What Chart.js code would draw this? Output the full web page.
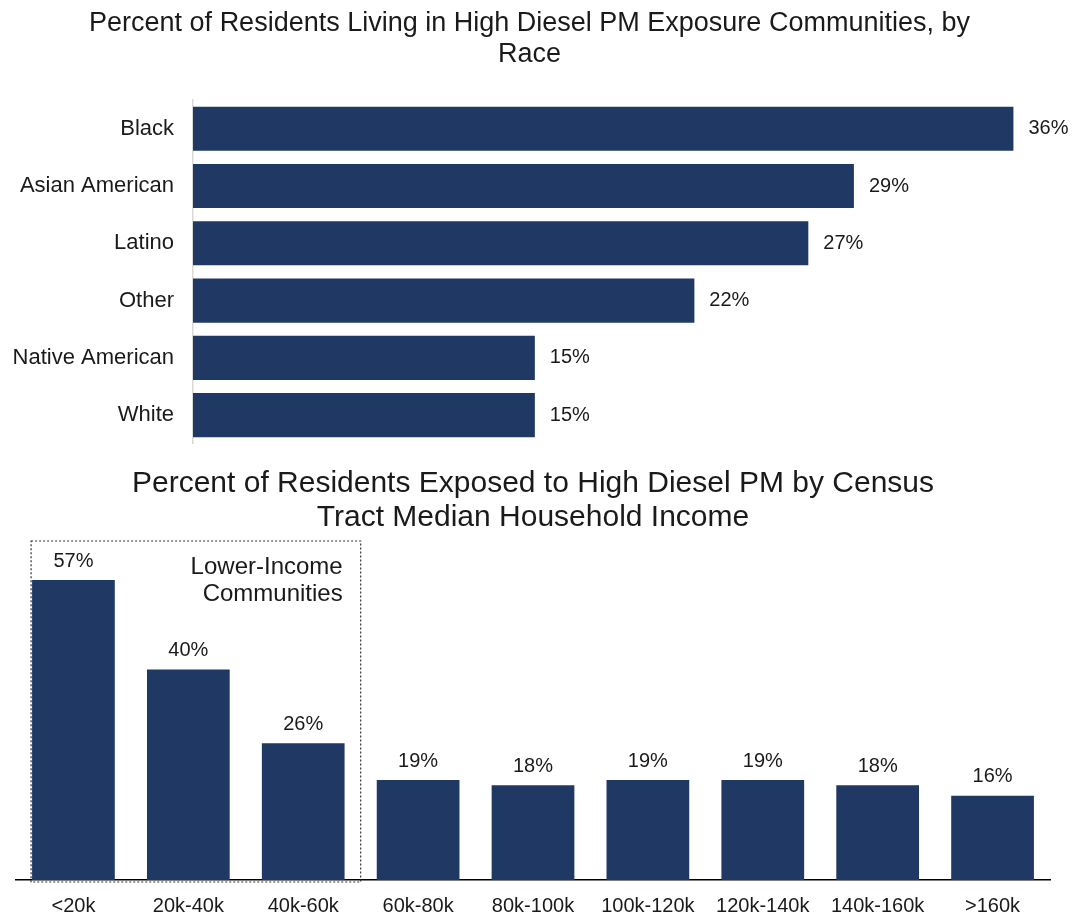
<!DOCTYPE html>
<html>
<head>
<meta charset="utf-8">
<script src="https://cdn.jsdelivr.net/npm/chart.js@4"></script>
<style>
  body { margin: 0; background: #fff; }
  canvas { position: absolute; left: 0; }
</style>
</head>
<body>
<canvas id="raceChart" width="1077" height="476" style="top:0"></canvas>
<canvas id="incomeChart" width="1077" height="464" style="top:455px"></canvas>
<script>
const raceLabels = ["Black", "Asian American", "Latino", "Other", "Native American", "White"];
const raceValues = [36, 29, 27, 22, 15, 15];

const incomeLabels = ["<20k", "20k-40k", "40k-60k", "60k-80k", "80k-100k", "100k-120k", "120k-140k", "140k-160k", ">160k"];
const incomeValues = [57, 40, 26, 19, 18, 19, 19, 18, 16];

const navy = "#1F3864";
const ink = "#1a1a1a";
const fontFamily = "'Liberation Sans', Arial, sans-serif";

Chart.defaults.font.family = fontFamily;
Chart.defaults.color = ink;
Chart.defaults.animation = false;

// writes "NN%" next to / above each bar
const valueLabels = {
  id: "valueLabels",
  afterDatasetsDraw(chart, args, opts) {
    const ctx = chart.ctx;
    const meta = chart.getDatasetMeta(0);
    ctx.save();
    ctx.fillStyle = ink;
    ctx.font = opts.size + "px " + fontFamily;
    meta.data.forEach((bar, i) => {
      const txt = chart.data.datasets[0].data[i] + "%";
      if (opts.horizontal) {
        ctx.textAlign = "left";
        ctx.textBaseline = "middle";
        ctx.fillText(txt, bar.x + 15, bar.y);
      } else {
        ctx.textAlign = "center";
        ctx.textBaseline = "bottom";
        ctx.fillText(txt, bar.x, bar.y - 9);
      }
    });
    ctx.restore();
  }
};

// dotted box round the lower-income bars
const lowIncomeBox = {
  id: "lowIncomeBox",
  afterDatasetsDraw(chart) {
    const ctx = chart.ctx;
    const x = chart.scales.x;
    const meta = chart.getDatasetMeta(0);
    const b0 = meta.data[0];
    const left = b0.x - b0.width / 2 - 1;
    const right = (x.getPixelForValue(2) + x.getPixelForValue(3)) / 2;
    const top = chart.chartArea.top + 3;
    const bottom = chart.chartArea.bottom + 2;
    ctx.save();
    ctx.strokeStyle = "#333";
    ctx.lineWidth = 1.2;
    ctx.setLineDash([2, 2]);
    ctx.strokeRect(left, top, right - left, bottom - top);
    ctx.setLineDash([]);
    ctx.fillStyle = ink;
    ctx.font = "24px " + fontFamily;
    ctx.textAlign = "right";
    ctx.textBaseline = "middle";
    ctx.fillText("Lower-Income", right - 18, top + 26);
    ctx.fillText("Communities", right - 18, top + 53);
    ctx.restore();
  }
};

new Chart(document.getElementById("raceChart"), {
  type: "bar",
  data: {
    labels: raceLabels,
    datasets: [{
      data: raceValues,
      backgroundColor: navy,
      categoryPercentage: 1,
      barPercentage: 0.77
    }]
  },
  options: {
    indexAxis: "y",
    responsive: false,
    layout: { padding: { left: 0, right: 18, top: 0, bottom: 0 } },
    plugins: {
      legend: { display: false },
      tooltip: { enabled: false },
      title: {
        display: true,
        text: ["Percent of Residents Living in High Diesel PM Exposure Communities, by", "Race"],
        font: { size: 27, weight: "normal", lineHeight: 1.15 },
        color: ink,
        padding: { top: 8, bottom: 30 }
      },
      valueLabels: { horizontal: true, size: 20 }
    },
    scales: {
      x: { display: false, min: 0, max: 38 },
      y: {
        grid: { display: false, drawTicks: false },
        border: { display: true, color: "#d9d9d9", width: 1.5 },
        ticks: { font: { size: 22 }, color: ink, padding: 19 },
        afterFit(scale) { scale.width = 193; }
      }
    }
  },
  plugins: [valueLabels]
});

new Chart(document.getElementById("incomeChart"), {
  type: "bar",
  data: {
    labels: incomeLabels,
    datasets: [{
      data: incomeValues,
      backgroundColor: navy,
      categoryPercentage: 1,
      barPercentage: 0.72
    }]
  },
  options: {
    responsive: false,
    layout: { padding: { left: 16, right: 27, top: 0, bottom: 0 } },
    plugins: {
      legend: { display: false },
      tooltip: { enabled: false },
      title: {
        display: true,
        text: ["Percent of Residents Exposed to High Diesel PM by Census", "Tract Median Household Income"],
        font: { size: 30, weight: "normal", lineHeight: 1.15 },
        color: ink,
        padding: { top: 11, bottom: 3 }
      },
      valueLabels: { horizontal: false, size: 20 }
    },
    scales: {
      y: { display: false, min: 0, max: 65 },
      x: {
        grid: { display: false, drawTicks: false },
        border: { display: true, color: "#000", width: 1.5 },
        ticks: { font: { size: 20 }, color: ink, padding: 14, maxRotation: 0, autoSkip: false },
        afterFit(scale) { scale.height = 39; }
      }
    }
  },
  plugins: [valueLabels, lowIncomeBox]
});
</script>
</body>
</html>
